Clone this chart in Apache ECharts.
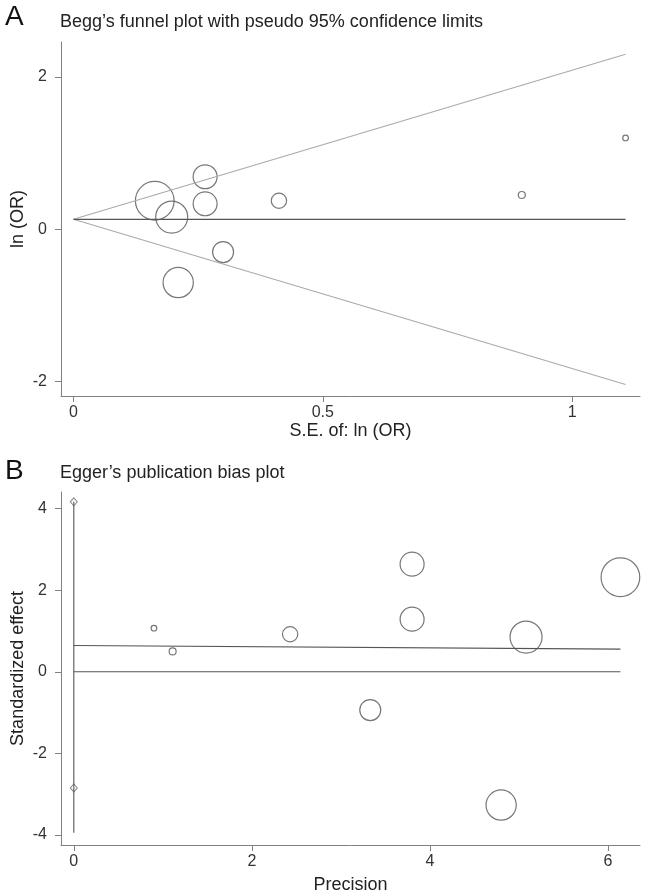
<!DOCTYPE html>
<html>
<head>
<meta charset="utf-8">
<script src="https://cdn.jsdelivr.net/npm/echarts@6/dist/echarts.min.js"></script>
<style>
html,body{margin:0;padding:0;background:#fff;}
#chart{width:650px;height:895px;}
</style>
</head>
<body>
<div id="chart"></div>
<script>
// ---- Panel A: Begg's funnel plot ----
const seLnOR   = [1.107, 0.899, 0.412, 0.264, 0.264, 0.163, 0.197, 0.300, 0.210];
const lnOR     = [1.20, 0.45, 0.375, 0.69, 0.335, 0.375, 0.16, -0.30, -0.70];
const studyWeight = [0.90, 1.11, 2.43, 3.80, 3.80, 6.14, 5.08, 3.33, 4.80];
const funnelSE    = [0, 1.107];
const pooledLine  = [0.131, 0.131];
const upperLimit  = [0.131, 2.30];
const lowerLimit  = [0.131, -2.04];
const ticksA_x = [0, 0.5, 1];
const ticksA_y = [-2, 0, 2];

// ---- Panel B: Egger's publication bias plot ----
const precision = [0.90, 1.11, 2.43, 3.80, 3.80, 6.14, 5.08, 3.33, 4.80];
const stdEffect = [1.07, 0.50, 0.92, 2.64, 1.29, 2.32, 0.85, -0.94, -3.27];
const eggerX    = [0, 6.14];
const eggerFit  = [0.645, 0.555];
const zeroLine  = [0, 0];
const interceptLineY = [4.17, -3.95];
const interceptMarks = [4.17, -2.85];
const ticksB_x = [0, 2, 4, 6];
const ticksB_y = [-4, -2, 0, 2, 4];

const FONT = '"Liberation Sans", Arial, sans-serif';
const axisCol = '#808080';
const txtCol = '#333';

function pairs(xs, ys){ return xs.map((x,i)=>[x, ys[i]]); }

function xAx(grid, min, max, ticks, name, nameGap){
  return {
    gridIndex: grid, type:'value', min:min, max:max,
    name:name, nameLocation:'middle', nameGap:nameGap,
    nameTextStyle:{fontFamily:FONT, fontSize:18, color:'#222'},
    axisLine:{show:true, onZero:false, lineStyle:{color:axisCol, width:1}},
    axisTick:{show:true, customValues:ticks, length:6, lineStyle:{color:axisCol}},
    axisLabel:{customValues:ticks, margin:9, fontFamily:FONT, fontSize:16, color:txtCol},
    splitLine:{show:false}
  };
}
function yAx(grid, min, max, ticks, name, nameGap){
  return {
    gridIndex: grid, type:'value', min:min, max:max,
    name:name, nameLocation:'middle', nameGap:nameGap, nameRotate:90, nameMoveOverlap:false,
    nameTextStyle:{fontFamily:FONT, fontSize:18, color:'#222'},
    axisLine:{show:true, onZero:false, lineStyle:{color:axisCol, width:1}},
    axisTick:{show:true, customValues:ticks, length:6, lineStyle:{color:axisCol}},
    axisLabel:{customValues:ticks, margin:14, fontFamily:FONT, fontSize:16, color:txtCol},
    splitLine:{show:false}
  };
}

const circleStyle = {color:'rgba(0,0,0,0)', borderColor:'#555', borderWidth:1.2};

const option = {
  animation:false,
  backgroundColor:'#fff',
  title:[
    {text:'A', left:0, top:-2, textStyle:{fontFamily:FONT, fontSize:28, fontWeight:'normal', color:'#111'}},
    {text:'Begg\u2019s funnel plot with pseudo 95% confidence limits', left:55, top:8, textStyle:{fontFamily:FONT, fontSize:18, fontWeight:'normal', color:'#222'}},
    {text:'B', left:0, top:452, textStyle:{fontFamily:FONT, fontSize:28, fontWeight:'normal', color:'#111'}},
    {text:'Egger\u2019s publication bias plot', left:55, top:459, textStyle:{fontFamily:FONT, fontSize:18, fontWeight:'normal', color:'#222'}}
  ],
  grid:[
    {left:61, top:42, width:579, height:354, outerBoundsMode:'none', containLabel:false},
    {left:61, top:492, width:579, height:353, outerBoundsMode:'none', containLabel:false}
  ],
  xAxis:[
    xAx(0, -0.025, 1.136, ticksA_x, 'S.E. of: ln (OR)', 26),
    xAx(1, -0.144, 6.36, ticksB_x, 'Precision', 31)
  ],
  yAxis:[
    yAx(0, -2.19, 2.46, ticksA_y, 'ln (OR)', 34),
    yAx(1, -4.25, 4.41, ticksB_y, 'Standardized effect', 34)
  ],
  series:[
    {type:'line', xAxisIndex:0, yAxisIndex:0, data:pairs(funnelSE, upperLimit), symbol:'none', lineStyle:{color:'#aaa', width:1.1}, silent:true},
    {type:'line', xAxisIndex:0, yAxisIndex:0, data:pairs(funnelSE, lowerLimit), symbol:'none', lineStyle:{color:'#aaa', width:1.1}, silent:true},
    {type:'line', xAxisIndex:0, yAxisIndex:0, data:pairs(funnelSE, pooledLine), symbol:'none', lineStyle:{color:'#555', width:1.2}, silent:true},
    {type:'scatter', xAxisIndex:0, yAxisIndex:0,
      data: seLnOR.map((s,i)=>[s, lnOR[i], studyWeight[i]]),
      symbol:'circle', symbolSize:(v)=>v[2]*6.3, itemStyle:circleStyle},

    {type:'line', xAxisIndex:1, yAxisIndex:1, data:pairs(eggerX, eggerFit), symbol:'none', lineStyle:{color:'#555', width:1.1}, silent:true},
    {type:'line', xAxisIndex:1, yAxisIndex:1, data:pairs(eggerX, zeroLine), symbol:'none', lineStyle:{color:'#555', width:1.1}, silent:true},
    {type:'line', xAxisIndex:1, yAxisIndex:1, data:interceptLineY.map(v=>[0,v]), symbol:'none', lineStyle:{color:'#555', width:1.1}, silent:true},
    {type:'scatter', xAxisIndex:1, yAxisIndex:1, data:interceptMarks.map(v=>[0,v]), symbol:'diamond', symbolSize:[7,8],
      itemStyle:{color:'#fff', borderColor:'#666', borderWidth:1}},
    {type:'scatter', xAxisIndex:1, yAxisIndex:1,
      data: precision.map((p,i)=>[p, stdEffect[i], studyWeight[i]]),
      symbol:'circle', symbolSize:(v)=>v[2]*6.3, itemStyle:circleStyle}
  ]
};

const chart = echarts.init(document.getElementById('chart'), null, {renderer:'canvas'});
chart.setOption(option);
</script>
</body>
</html>
